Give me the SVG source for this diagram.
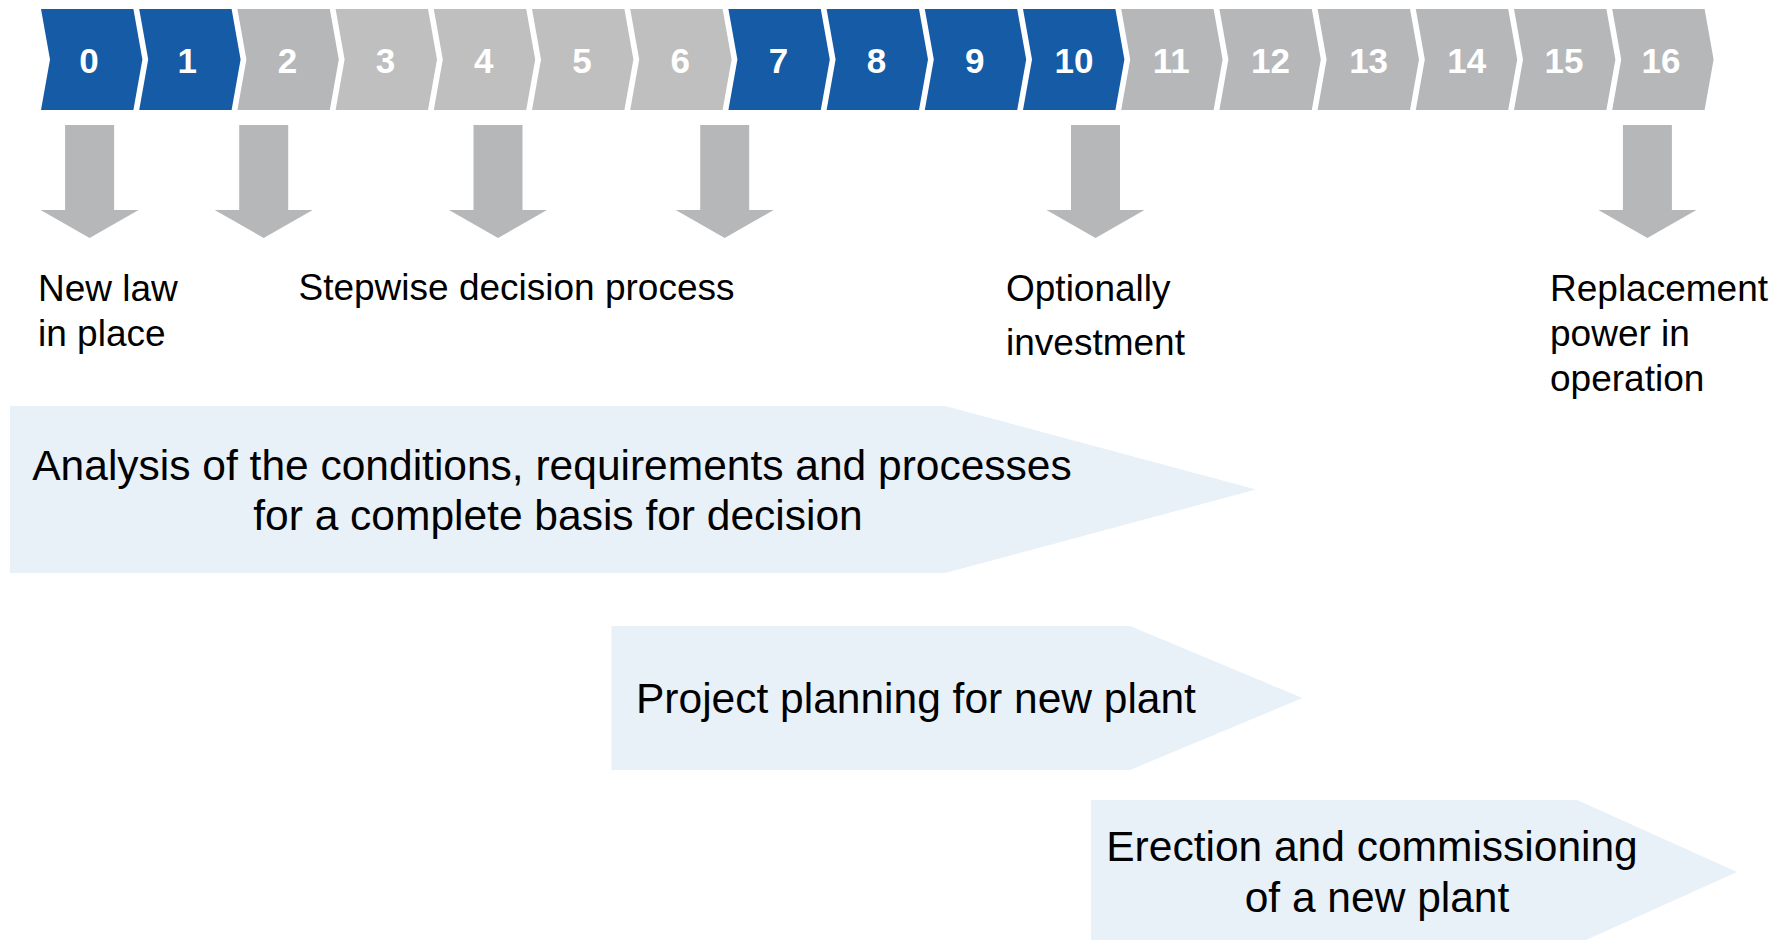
<svg xmlns="http://www.w3.org/2000/svg" xmlns:xlink="http://www.w3.org/1999/xlink" width="1785" height="940" viewBox="0 0 1785 940">
  <style>
    .blue { fill: #165BA5; }
    .grey { fill: #B6B7B9; }
    .grey-lt { fill: #BFBFBF; }
    .arrow { fill: #B6B7B9; }
    .phase { fill: #E8F0F8; }
    .num { font-family: "Liberation Sans", Arial, sans-serif; font-weight: bold; font-size: 35px; fill: #FFFFFF; text-anchor: middle; }
    .label { font-family: "Liberation Sans", Arial, sans-serif; font-size: 37px; fill: #000000; }
    .phase-text { font-family: "Liberation Sans", Arial, sans-serif; font-size: 42.5px; fill: #000000; }
  </style>
  <defs>
    <!-- one year step of the timeline -->
    <path id="chev" d="M0,9 H92.4 L101.4,59.5 L92.4,110 H0 L9,59.5 Z"/>
    <!-- block arrow pointing down, tip at x=0 -->
    <path id="down" d="M-24.5,125 H24.5 V210 H49 L0,238 L-49,210 H-24.5 Z"/>
  </defs>

  <rect width="1785" height="940" fill="#FFFFFF"/>

  <!-- timeline years 0..16 -->
  <g id="year-0"><use href="#chev" x="41" class="blue"/><text class="num" x="89" y="73">0</text></g>
  <g id="year-1"><use href="#chev" x="139.2" class="blue"/><text class="num" x="187.2" y="73">1</text></g>
  <g id="year-2"><use href="#chev" x="237.4" class="grey"/><text class="num" x="287.4" y="73">2</text></g>
  <g id="year-3"><use href="#chev" x="335.6" class="grey-lt"/><text class="num" x="385.6" y="73">3</text></g>
  <g id="year-4"><use href="#chev" x="433.8" class="grey-lt"/><text class="num" x="483.8" y="73">4</text></g>
  <g id="year-5"><use href="#chev" x="532" class="grey-lt"/><text class="num" x="582" y="73">5</text></g>
  <g id="year-6"><use href="#chev" x="630.2" class="grey-lt"/><text class="num" x="680.2" y="73">6</text></g>
  <g id="year-7"><use href="#chev" x="728.4" class="blue"/><text class="num" x="778.4" y="73">7</text></g>
  <g id="year-8"><use href="#chev" x="826.6" class="blue"/><text class="num" x="876.6" y="73">8</text></g>
  <g id="year-9"><use href="#chev" x="924.8" class="blue"/><text class="num" x="974.8" y="73">9</text></g>
  <g id="year-10"><use href="#chev" x="1023" class="blue"/><text class="num" x="1074" y="73">10</text></g>
  <g id="year-11"><use href="#chev" x="1121.2" class="grey"/><text class="num" x="1171.2" y="73">11</text></g>
  <g id="year-12"><use href="#chev" x="1219.4" class="grey"/><text class="num" x="1270.4" y="73">12</text></g>
  <g id="year-13"><use href="#chev" x="1317.6" class="grey"/><text class="num" x="1368.6" y="73">13</text></g>
  <g id="year-14"><use href="#chev" x="1415.8" class="grey"/><text class="num" x="1466.8" y="73">14</text></g>
  <g id="year-15"><use href="#chev" x="1514" class="grey"/><text class="num" x="1564" y="73">15</text></g>
  <g id="year-16"><use href="#chev" x="1612.2" class="grey"/><text class="num" x="1661" y="73">16</text></g>

  <!-- milestone pointers -->
  <g id="connectors">
    <use href="#down" x="89.6" class="arrow"/>
    <use href="#down" x="263.7" class="arrow"/>
    <use href="#down" x="498" class="arrow"/>
    <use href="#down" x="724.7" class="arrow"/>
    <use href="#down" x="1095.5" class="arrow"/>
    <use href="#down" x="1647.4" class="arrow"/>
  </g>

  <!-- milestone labels -->
  <g id="milestone-new-law">
    <text class="label" x="38" y="301">New law</text>
    <text class="label" x="38" y="346">in place</text>
  </g>
  <g id="milestone-decision">
    <text class="label" x="298.5" y="300">Stepwise decision process</text>
  </g>
  <g id="milestone-investment">
    <text class="label" x="1006" y="301">Optionally</text>
    <text class="label" x="1006" y="355">investment</text>
  </g>
  <g id="milestone-replacement">
    <text class="label" x="1550" y="301">Replacement</text>
    <text class="label" x="1550" y="346">power in</text>
    <text class="label" x="1550" y="391">operation</text>
  </g>

  <!-- project phases -->
  <g id="phase-analysis">
    <path class="phase" d="M10,406 H945 L1256,489.5 L945,573 H10 Z"/>
    <text class="phase-text" x="552" y="480" text-anchor="middle">Analysis of the conditions, requirements and processes</text>
    <text class="phase-text" x="558" y="530" text-anchor="middle">for a complete basis for decision</text>
  </g>
  <g id="phase-planning">
    <path class="phase" d="M611.5,626 H1130 L1302.5,698 L1130,770 H611.5 Z"/>
    <text class="phase-text" x="636" y="713">Project planning for new plant</text>
  </g>
  <g id="phase-erection">
    <path class="phase" d="M1091,800 H1577 L1737,872 L1577,944 H1091 Z"/>
    <text class="phase-text" x="1372" y="861" text-anchor="middle">Erection and commissioning</text>
    <text class="phase-text" x="1377" y="912" text-anchor="middle">of a new plant</text>
  </g>
</svg>
